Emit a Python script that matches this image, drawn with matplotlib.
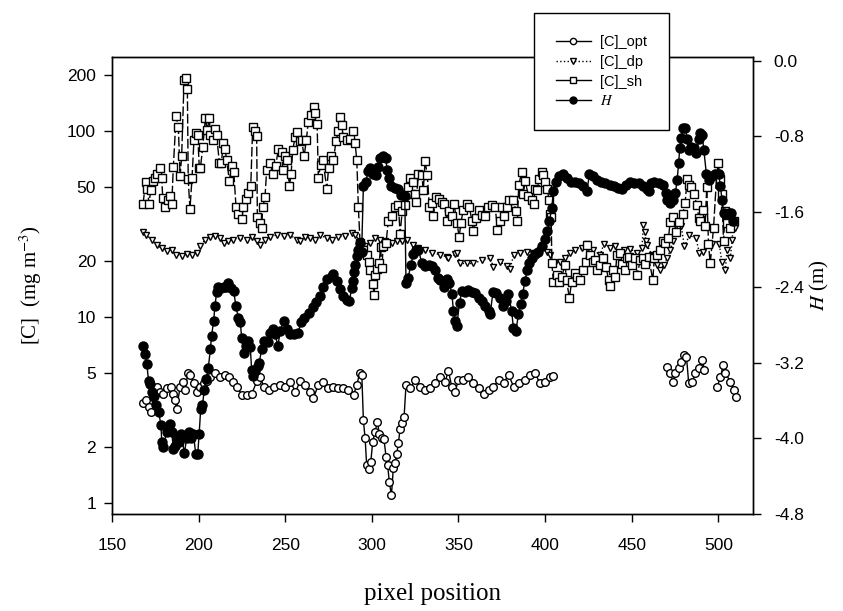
import numpy as np
import matplotlib
matplotlib.use("Agg")
import matplotlib.pyplot as plt
from matplotlib.lines import Line2D
from matplotlib.ticker import FixedLocator, NullLocator, FormatStrFormatter

plt.rcParams["font.family"] = "Liberation Sans"
plt.rcParams["axes.unicode_minus"] = False
plt.rcParams["mathtext.fontset"] = "stix"

nan = np.nan

# [C]_sh : shading-derived concentration (mg m-3), left log axis
sh_x = [167.9, 169.4, 170.4, 171.4, 172.3, 173.5, 174.8, 176.2, 177.7, 178.7, 179.3, 180.6,
        182.5, 183.5, 184.5, 185.4, 187.0, 188.3, 189.3, 190.2, 191.6, 192.7, 193.5, 194.0,
        195.0, 196.2, 197.3, 198.5, 199.5, 200.4, 201.0, 202.4, 203.9, 205.0, 206.2, 206.7,
        208.1, 209.5, 210.4, 212.0, 213.1, 214.3, 215.2, 216.2, 217.7, 219.1, 220.3, 221.6,
        222.9, 224.9, 225.8, 227.4, 228.7, 230.1, 231.2, 232.6, 233.5, 233.9, 235.5, 236.4,
        237.0, 238.3, 239.3, 241.2, 243.1, 244.5, 246.0, 248.0, 248.5, 250.0, 251.0, 252.4,
        253.4, 254.3, 255.7, 257.0, 258.5, 259.5, 260.9, 262.2, 263.3, 265.0, 266.4, 267.4,
        268.4, 269.1, 270.5, 271.7, 274.0, 275.0, 276.3, 277.8, 279.3, 280.7, 281.6, 282.5,
        283.5, 285.5, 287.4, 289.3, 290.3, 291.3, 292.2, 293.2, 295.1, 297.0, 298.4, 299.2,
        300.5, 301.3, 302.0, 303.2, 304.3, 305.0, 305.8, 306.5, 308.2, 309.5, 311.5, 313.4,
        315.3, 316.3, 317.5, 319.0, 320.1, 321.0, 322.0, 324.0, 325.0, 325.5, 326.9, 328.8,
        329.7, 330.7, 332.0, 333.2, 334.6, 335.5, 337.0, 339.0, 340.3, 341.7, 343.3, 344.6,
        346.1, 347.5, 349.0, 350.5, 351.3, 352.8, 354.8, 356.3, 357.7, 358.6, 360.2, 361.6,
        363.5, 365.4, 367.3, 369.3, 371.2, 372.5, 374.0, 375.0, 376.4, 377.9, 379.4, 381.5,
        383.3, 384.0, 384.8, 386.5, 387.4, 388.5, 390.4, 392.3, 393.3, 394.2, 395.2, 396.7,
        398.0, 399.0, 400.0, 400.9, 402.5, 402.9, 403.5, 403.9, 404.8, 406.7, 408.3, 409.6,
        411.5, 412.4, 414.0, 415.3, 417.3, 418.3, 420.2, 421.6, 423.6, 424.4, 425.9, 427.4,
        428.9, 430.2, 431.7, 433.6, 435.2, 436.6, 437.6, 439.1, 440.5, 441.4, 443.0, 444.3,
        446.2, 447.1, 448.7, 450.0, 452.0, 453.3, 454.8, 456.3, 457.7, 459.7, 462.2, 463.0,
        464.6, 466.1, 468.0, 469.4, 471.2, 472.2, 473.7, 475.6, 477.0, 479.5, 480.8, 482.0,
        483.3, 484.5, 486.0, 487.5, 488.8, 489.5, 491.4, 492.4, 493.3, 494.3, 495.3, 497.2,
        499.1, 500.0, 501.0, 502.0, 503.0, 503.9, 505.0, 507.0, 509.0]
sh_y = [40.5, 53, 48.7, 40.5, 48, 54, 56, 59, 63, 56, 43.6, 39,
        42.6, 44.7, 40.5, 64, 120, 105, 57, 73, 188, 193, 168, 55,
        38, 56, 89, 98, 95, 63, 63, 82, 117, 101, 118, 95,
        89, 103, 95, 67, 67, 86, 80, 70, 54, 65, 60, 39,
        36, 33.5, 39, 43, 46.5, 50.6, 105, 100, 94, 34.6, 32, 30,
        39, 44, 62, 67, 58.5, 65, 80, 77, 62, 73, 70, 50.6,
        59, 79, 92.5, 99, 88, 89, 73, 90, 112, 122, 135, 125,
        109, 56, 66, 70, 49, 63, 73, 70, 88, 100, 119, 108,
        93, 89, 91, 100, 86, 70, 39, 25, 23, 21.5, 19.8, 18,
        15, 13.2, 16.8, 18.1, 19.6, 23.9, 18.4, 24, 25, 33, 35, 39,
        40, 28, 37, 40, 46, 50, 56, 53, 46, 41.7, 59, 58,
        48, 69, 58, 39, 41, 35, 44, 43, 41.7, 40.5, 33, 37,
        35, 40.5, 32, 27, 32, 37.5, 40.5, 39, 33, 29, 34, 37.5,
        35.5, 35, 39, 40, 39, 29.5, 33, 39, 35, 39, 42.5, 42.7,
        37, 33, 51.5, 60, 46, 54, 44.7, 42.7, 40.5, 49, 48, 55,
        60, 58, 53, 49, 42.7, 36, 34.6, 19.4, 15.5, 16.8, 15.5, 16.5,
        19, 15.8, 12.6, 15.5, 17.3, 16.5, 15.8, 18, 19.8, 24.4, 21.5, 19.8,
        20.2, 17.8, 19, 20.7, 18.6, 15.8, 14.7, 17.8, 16.5, 21.5, 22, 19.2,
        18, 20.7, 21, 19, 20.7, 16.8, 20.2, 20.7, 19.2, 21, 15.8, 20.7,
        21.5, 23, 25.5, 25, 26.5, 32.5, 34.6, 28.8, 32.5, 36, 41, 55,
        51.5, 50, 46, 40, 34, 33, 37.5, 31, 50, 24.8, 19.4, 30,
        59, 67, 55, 46, 25.5, 37, 32, 30, 33]

# [C]_dp
dp_x = [167.7, 169.8, 172.9, 175.8, 178.7, 181.6, 184.5, 187.0, 190.2, 193.1, 196.0, 198.9,
        200.8, 203.7, 206.6, 209.5, 212.4, 214.7, 217.2, 220.0, 223.9, 227.7, 230.6, 233.5,
        235.5, 238.4, 241.2, 245.1, 249.0, 252.9, 256.7, 258.7, 261.6, 264.5, 267.3, 270.1,
        274.0, 276.9, 280.7, 284.6, 288.5, 290.4, 293.2, 296.1, 299.0, 301.9, 304.8, 307.7,
        311.5, 314.4, 317.3, 320.2, 324.0, 326.9, 330.7, 334.6, 339.4, 343.3, 344.2, 348.1,
        349.0, 351.0, 354.8, 358.6, 363.5, 368.3, 370.2, 374.0, 377.9, 379.8, 381.8, 385.5,
        389.4, 393.2, 397.1, 400.9, 402.9, 405.8, 408.7, 411.5, 414.4, 417.3, 421.2, 424.4,
        427.9, 431.7, 434.0, 437.6, 440.5, 442.4, 445.3, 449.2, 453.0, 455.9, 456.7, 457.5,
        458.2, 458.8, 461.7, 464.6, 466.5, 468.4, 470.4, 472.3, 473.8, 475.6, 478.5, 480.4,
        483.3, 487.1, 489.0, 491.4, 496.6, 500.5, 502.0, 504.0, 505.0, 506.9, 508.0, 508.5,
        509.8]
dp_y = [28.8, 27.6, 26, 24.4, 23.4, 22.7, 23, 21.5, 21.3, 21.8, 21.5, 22.2,
        24, 26, 27, 27.3, 26.5, 24.9, 25.5, 26, 26.5, 26, 27, 25.5,
        24.4, 26, 27, 27.6, 27.3, 27.6, 26, 25.5, 27, 26.5, 26, 27.6,
        26.5, 26, 27, 27.3, 28.2, 27.6, 25.5, 24, 25, 26.5, 26, 25.5,
        25, 25.5, 25.5, 26, 24.4, 23.4, 23, 22.2, 21.6, 21.1, 20.7, 21.7,
        22.2, 19.4, 19.4, 19.4, 20.2, 20.7, 18.6, 19.8, 18.8, 18.2, 21.5, 22.2,
        22.5, 22.2, 23, 22.5, 21.5, 19.4, 19.8, 20.7, 22.2, 23, 23.4, 24.8,
        23, 21.5, 24.8, 23.4, 24, 21.5, 23, 23.2, 22.2, 23.4, 31.2, 28.5,
        25.5, 24.4, 21.5, 19, 17.8, 19, 20.7, 23, 25.5, 28.2, 31, 24,
        27.5, 26.5, 22.2, 22.5, 24.8, 24.8, 19.8, 17.8, 22.9, 20.7, 26, 31,
        30]

# [C]_opt (gaps where no retrieval)
opt_x = [167.7, 169.8, 171.4, 172.7, 173.7, 174.6, 176.0, 177.5, 179.5, 181.5, 183.8, 185.0,
         186.3, 187.3, 189.3, 191.0, 192.3, 193.7, 195.2, 197.1, 199.0, 201.0, 202.9, 204.8,
         206.7, 209.6, 212.5, 215.4, 217.3, 219.8, 222.1, 225.0, 227.9, 230.8, 233.7, 235.6,
         237.6, 240.4, 243.3, 247.2, 250.1, 253.0, 255.9, 258.8, 261.4, 264.3, 266.2, 269.1,
         272.0, 274.9, 277.8, 280.7, 283.6, 286.5, 289.4, 291.3, 292.9, 294.2, 295.1, 296.1,
         297.0, 298.4, 299.4, 300.5, 301.9, 303.2, 304.3, 305.7, 307.0, 308.2, 309.1, 310.1,
         311.3, 312.4, 313.4, 314.4, 315.3, 316.3, 317.5, 318.6, 319.7, 322.0, 325.0, 327.8,
         330.7, 333.6, 336.5, 339.4, 342.3, 344.2, 346.1, 348.0, 350.0, 352.8, 355.7, 358.6,
         361.6, 364.5, 367.4, 370.2, 373.1, 376.0, 378.9, 381.8, 384.7, 388.4, 391.3, 394.2,
         397.1, 400.0, 402.9, 404.4, nan,
         470.3, 472.3, 473.8, 475.2, 477.1, 478.5, 480.0, 481.6, 482.9, 484.9, 486.8, 488.7,
         490.7, 492.0, nan,
         499.3, 501.2, 502.8, 504.1, 507.0, 509.0, 509.9]
opt_y = [3.47, 3.58, 3.3, 3.1, 3.73, 4.06, 4.22, 3.96, 3.88, 4.13, 4.22, 3.88,
         3.58, 3.19, 4.22, 4.49, 4.06, 4.98, 4.9, 4.4, 3.96, 4.22, 4.4, 4.55,
         4.75, 4.98, 4.75, 4.88, 4.75, 4.49, 4.22, 3.82, 3.82, 3.88, 4.55, 4.75,
         4.22, 4.06, 4.22, 4.3, 4.22, 4.49, 3.96, 4.55, 4.3, 3.96, 3.66, 4.3,
         4.49, 4.14, 4.22, 4.14, 4.14, 4.06, 3.82, 4.3, 4.98, 4.9, 2.79, 2.23,
         1.6, 1.52, 1.67, 2.14, 2.42, 2.74, 2.36, 2.23, 2.2, 1.77, 1.6, 1.29,
         1.1, 1.55, 1.64, 1.84, 2.1, 2.5, 2.7, 2.9, 4.3, 4.14, 4.58, 4.22,
         4.06, 4.14, 4.4, 4.75, 4.49, 5.14, 4.22, 3.96, 4.58, 4.58, 4.75, 4.4,
         4.14, 3.88, 4.06, 4.22, 4.58, 4.4, 4.9, 4.22, 4.4, 4.58, 4.89, 4.98,
         4.4, 4.49, 4.75, 4.8, nan,
         5.4, 4.98, 4.49, 4.98, 5.3, 5.75, 6.25, 6.1, 4.4, 4.49, 4.98, 5.3,
         5.85, 5.2, nan,
         4.22, 4.75, 5.5, 4.98, 4.49, 4.06, 3.73]

# H (m), right axis
h_x = [167.7, 169.1, 170.1, 171.1, 172.0, 173.0, 174.0, 175.5, 176.9, 178.3, 178.7, 179.6,
       181.6, 182.5, 183.5, 184.5, 185.4, 186.4, 187.3, 188.7, 189.8, 191.8, 193.1, 194.5,
       195.6, 197.0, 198.3, 199.5, 200.3, 201.2, 202.2, 203.3, 204.3, 205.6, 206.8, 207.5,
       208.7, 209.4, 210.4, 211.4, 212.9, 214.5, 215.8, 217.2, 218.7, 220.2, 221.6, 222.9,
       224.1, 224.8, 226.0, 227.3, 228.7, 229.8, 230.6, 231.2, 232.5, 234.0, 235.0, 236.4,
       237.9, 239.9, 241.4, 242.8, 244.1, 245.7, 247.2, 249.1, 251.1, 253.0, 255.3, 257.3,
       259.2, 261.1, 263.5, 266.0, 267.9, 269.9, 271.8, 274.0, 276.9, 277.8, 279.7, 281.6,
       283.6, 285.5, 287.0, 288.4, 289.0, 289.7, 290.3, 291.3, 292.2, 293.2, 294.1, 295.1,
       296.5, 297.8, 299.2, 300.7, 302.2, 303.6, 304.9, 306.5, 308.0, 308.8, 309.9, 311.3,
       313.2, 315.1, 317.0, 319.0, 319.7, 321.0, 322.4, 324.0, 325.5, 326.9, 328.8, 330.7,
       332.7, 334.6, 336.5, 337.9, 339.4, 341.4, 343.3, 344.8, 346.2, 347.1, 348.1, 349.0,
       350.6, 351.9, 353.8, 355.7, 357.7, 359.6, 361.6, 363.5, 365.4, 367.4, 368.3, 369.9,
       371.8, 373.8, 375.9, 377.6, 378.8, 380.7, 381.7, 383.2, 384.6, 385.9, 387.0, 388.4,
       389.7, 390.9, 392.2, 394.2, 396.1, 398.0, 400.0, 401.3, 402.5, 403.8, 404.8, 406.3,
       408.3, 410.6, 412.5, 414.8, 417.3, 419.8, 422.1, 424.1, 425.6, 427.6, 429.9, 432.2,
       434.7, 437.2, 439.5, 441.8, 444.4, 446.9, 449.2, 451.5, 454.0, 456.5, 458.8, 459.8,
       461.2, 463.1, 465.6, 468.1, 469.5, 470.4, 472.3, 473.9, 475.2, 476.2, 477.1, 477.7,
       478.7, 479.6, 481.0, 481.9, 482.9, 484.2, 485.8, 487.3, 488.7, 489.6, 490.6, 491.6,
       493.1, 494.5, 496.4, 498.3, 500.2, 501.2, 502.1, 503.1, 504.6, 506.0, 507.5, 508.5]
h_y = [-3.02, -3.11, -3.21, -3.39, -3.42, -3.51, -3.55, -3.64, -3.72, -3.86, -4.04, -4.09,
       -3.93, -3.90, -3.85, -3.93, -4.11, -4.08, -4.00, -4.04, -3.95, -4.15, -4.00, -3.93,
       -3.99, -3.95, -4.16, -4.16, -3.95, -3.69, -3.64, -3.49, -3.37, -3.25, -3.05, -2.91,
       -2.75, -2.60, -2.45, -2.40, -2.41, -2.39, -2.40, -2.35, -2.41, -2.44, -2.60, -2.72,
       -2.77, -2.93, -3.09, -3.02, -2.97, -3.03, -3.27, -3.34, -3.29, -3.23, -3.20, -3.05,
       -2.97, -2.98, -2.88, -2.84, -2.89, -3.02, -2.86, -2.75, -2.84, -2.89, -2.89, -2.88,
       -2.77, -2.72, -2.67, -2.61, -2.55, -2.49, -2.39, -2.31, -2.28, -2.26, -2.33, -2.42,
       -2.49, -2.53, -2.54, -2.41, -2.33, -2.24, -2.16, -2.07, -2.00, -1.93, -2.02, -1.33,
       -1.28, -1.17, -1.13, -1.20, -1.21, -1.12, -1.03, -1.01, -1.03, -1.15, -1.24, -1.33,
       -1.35, -1.36, -1.42, -1.43, -2.35, -2.30, -2.16, -2.05, -2.00, -2.00, -2.14, -2.17,
       -2.16, -2.17, -2.21, -2.30, -2.32, -2.39, -2.31, -2.35, -2.47, -2.65, -2.76, -2.81,
       -2.56, -2.44, -2.45, -2.43, -2.45, -2.46, -2.51, -2.54, -2.60, -2.65, -2.68, -2.45,
       -2.46, -2.51, -2.60, -2.54, -2.47, -2.65, -2.83, -2.86, -2.68, -2.58, -2.47, -2.33,
       -2.21, -2.14, -2.09, -2.05, -2.02, -1.96, -1.89, -1.80, -1.70, -1.56, -1.38, -1.28,
       -1.22, -1.20, -1.24, -1.28, -1.28, -1.29, -1.33, -1.38, -1.20, -1.22, -1.26, -1.28,
       -1.29, -1.31, -1.33, -1.35, -1.36, -1.31, -1.28, -1.29, -1.29, -1.33, -1.36, -1.38,
       -1.29, -1.28, -1.29, -1.31, -1.40, -1.47, -1.50, -1.47, -1.40, -1.26, -1.08, -0.92,
       -0.82, -0.71, -0.71, -0.83, -0.94, -0.91, -0.92, -0.98, -0.83, -0.76, -0.78, -0.94,
       -1.20, -1.26, -1.22, -1.20, -1.20, -1.33, -1.47, -1.61, -1.62, -1.61, -1.61, -1.70]

left_ticks = [1, 2, 5, 10, 20, 50, 100, 200]
right_ticks = [0.0, -0.8, -1.6, -2.4, -3.2, -4.0, -4.8]
x_ticks = [150, 200, 250, 300, 350, 400, 450, 500]

fig = plt.figure(figsize=(8.43, 6.11), dpi=100)
ax = fig.add_axes([112 / 843, 97 / 611, 641 / 843, 457 / 611])
ax2 = ax.twinx()

open_kw = dict(color="black", mfc="white", mec="black", mew=1.0, lw=1.0, ms=5.5)
ax.plot(opt_x, opt_y, "-", marker="o", **open_kw)
ax.plot(dp_x, dp_y, ls=":", marker="v", **dict(open_kw, ms=5))
ax.plot(sh_x, sh_y, ls=(0, (7, 2)), marker="s", **open_kw)
ax2.plot(h_x, h_y, "-", marker="o", color="black", mfc="black", mec="black", ms=6.5, lw=1.0)

ax.set_yscale("log")
ax.set_xlim(150, 520)
ax.set_ylim(0.873, 250)
ax2.set_ylim(-4.8, 0.042)

ax.yaxis.set_major_locator(FixedLocator(left_ticks))
ax.yaxis.set_minor_locator(NullLocator())
ax.yaxis.set_major_formatter(FormatStrFormatter("%g"))
ax.xaxis.set_major_locator(FixedLocator(x_ticks))
ax2.yaxis.set_major_locator(FixedLocator(right_ticks))
ax2.yaxis.set_major_formatter(FormatStrFormatter("%.1f"))

ax.tick_params(axis="y", direction="out", length=5.5, width=1, labelsize=12.5, pad=6)
ax.tick_params(axis="x", direction="out", length=6, width=1, labelsize=12.5, pad=11)
ax2.tick_params(axis="y", direction="out", length=6, width=1, labelsize=12.5, pad=9)
for a in (ax, ax2):
    for s in a.spines.values():
        s.set_linewidth(1.0)

ax.set_xlabel("pixel position", family="Liberation Serif", fontsize=18)
ax.xaxis.set_label_coords(0.5, -0.152)
ax.set_ylabel("[C]  (mg m$^{-3}$)", family="Liberation Serif", fontsize=15)
ax.yaxis.set_label_coords(-0.106, 0.5)
ax2.set_ylabel("$H$ (m)", family="Liberation Serif", fontsize=15)
ax2.yaxis.set_label_coords(1.086, 0.5)

handles = [
    Line2D([], [], ls="-", marker="o", color="black", mfc="white", mec="black", ms=4.5, lw=1),
    Line2D([], [], ls=":", marker="v", color="black", mfc="white", mec="black", ms=4.5, lw=1),
    Line2D([], [], ls="-", marker="s", color="black", mfc="white", mec="black", ms=4.5, lw=1),
    Line2D([], [], ls="-", marker="o", color="black", mfc="black", ms=5, lw=1),
]
labels = ["[C]_opt", "[C]_dp", "[C]_sh", "$H$"]
leg = fig.legend(handles, labels, loc="upper left", bbox_to_anchor=(534 / 843, 1 - 13 / 611),
                 fontsize=10.5, frameon=True, fancybox=False, edgecolor="black", framealpha=1,
                 borderpad=1.5, labelspacing=0.4, handlelength=2.4, handletextpad=0.6,
                 borderaxespad=0)
leg.get_frame().set_linewidth(1.0)

fig.savefig("out.png", dpi=100)
